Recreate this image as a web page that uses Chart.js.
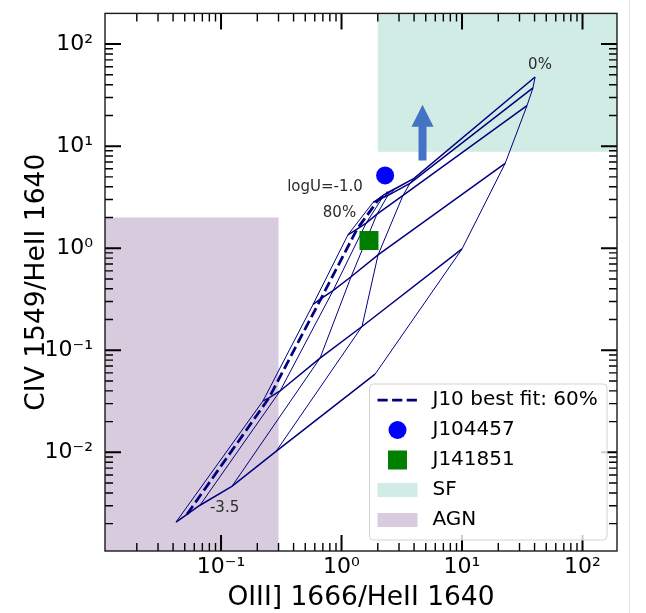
<!DOCTYPE html>
<html>
<head>
<meta charset="utf-8">
<script src="https://cdn.jsdelivr.net/npm/chart.js@4.4.1/dist/chart.umd.min.js"></script>
<style>
  html, body { margin: 0; padding: 0; background: #fff; }
  #wrap { position: relative; width: 646px; height: 613px; }
  #edge { position: absolute; left: 629px; top: 0; width: 1px; height: 613px; background: #e6e6e6; }
</style>
</head>
<body>
<div id="wrap">
  <canvas id="chart" width="646" height="613"></canvas>
  <div id="edge"></div>
</div>
<script>
// model grid: one point per logU on every AGN-fraction curve
const logU = [-3.5, -3.0, -2.5, -2.0, -1.5, -1.0];
const agnFractions = [80, 60, 40, 20, 10, 0];

// OIII] 1666/HeII 1640 (x) and CIV 1549/HeII 1640 (y)
const oiii80 = [0.0423, 0.223, 0.580, 1.13, 1.83, 2.21];
const civ80  = [0.00207, 0.0319, 0.281, 1.35, 2.82, 3.30];
const oiii60 = [0.0522, 0.250, 0.676, 1.345, 2.01, 2.43];
const civ60  = [0.00247, 0.0341, 0.321, 1.54, 2.95, 3.53];
const oiii40 = [0.0669, 0.309, 0.850, 1.60, 2.17, 2.63];
const civ40  = [0.00303, 0.0399, 0.384, 1.76, 3.09, 3.70];
const oiii20 = [0.123, 0.663, 1.20, 1.97, 2.43, 2.83];
const civ20  = [0.00463, 0.0836, 0.525, 2.16, 3.30, 3.87];
const oiii10 = [0.286, 1.48, 2.01, 3.24, 3.70, 4.00];
const civ10  = [0.0102, 0.171, 0.860, 3.30, 4.32, 4.84];
const oiii0  = [1.90, 10.0, 22.8, 34.6, 38.8, 40.4];
const civ0   = [0.0584, 0.984, 6.77, 24.9, 37.2, 47.6];

const oiiiGrid = [oiii80, oiii60, oiii40, oiii20, oiii10, oiii0];
const civGrid  = [civ80, civ60, civ40, civ20, civ10, civ0];
const bestFitFraction = 60;

// observed objects
const objNames = ['J104457', 'J141851'];
const objOiii  = [2.30, 1.69];
const objCiv   = [5.17, 1.19];

// lower limit arrow
const arrowOiii = 4.70;
const arrowCiv  = [7.24, 25.4]; // base, tip

// shaded regions (null = open to the axis edge)
const sfOiii  = [2.0, null];
const sfCiv   = [8.8, null];
const agnOiii = [null, 0.30];
const agnCiv  = [null, 2.0];

// text notes on the grid
const noteText = ['logU=-1.0', '80%', '0%', '-3.5'];
const noteOiii = [0.729, 0.962, 44.4, 0.107];
const noteCiv  = [3.95, 2.21, 62.3, 0.00283];

// axes
const xRange = [0.01089, 193.3];
const yRange = [0.001079, 199.9];
const xMajor = [0.1, 1, 10, 100];
const yMajor = [0.01, 0.1, 1, 10, 100];
const supers = {'-2': '⁻²', '-1': '⁻¹', '0': '⁰', '1': '¹', '2': '²'};

const NAVY = '#000080';
const SF_COLOR = '#d1ece5';
const AGN_COLOR = '#d8cbdd';
const FONT = 'DejaVu Sans';

function pow10Label(v) {
  const e = Math.round(Math.log10(v));
  return '10' + supers[String(e)];
}

function minorValues(min, max) {
  const out = [];
  for (let e = Math.floor(Math.log10(min)); e <= Math.ceil(Math.log10(max)); e++) {
    for (let m = 2; m <= 9; m++) {
      const v = m * Math.pow(10, e);
      if (v >= min && v <= max) out.push(v);
    }
  }
  return out;
}

const uDatasets = logU.map((u, j) => ({
  label: 'logU=' + u,
  data: agnFractions.map((f, i) => ({x: oiiiGrid[i][j], y: civGrid[i][j]})),
  showLine: true,
  borderColor: NAVY,
  borderWidth: 1.5,
  pointRadius: 0,
  fill: false
}));

const fDatasets = agnFractions.map((f, i) => ({
  label: f + '%',
  data: logU.map((u, j) => ({x: oiiiGrid[i][j], y: civGrid[i][j]})),
  showLine: true,
  borderColor: NAVY,
  borderWidth: f === bestFitFraction ? 2.75 : 1,
  borderDash: f === bestFitFraction ? [10.2, 4.4] : [],
  pointRadius: 0,
  fill: false
}));

const objDatasets = [
  {
    label: objNames[0],
    data: [{x: objOiii[0], y: objCiv[0]}],
    pointRadius: 9, pointHoverRadius: 9,
    pointBackgroundColor: 'blue', pointBorderWidth: 0
  },
  {
    label: objNames[1],
    data: [{x: objOiii[1], y: objCiv[1]}],
    pointStyle: 'rect',
    pointRadius: 13.4, pointHoverRadius: 13.4,
    pointBackgroundColor: 'green', pointBorderWidth: 0
  }
];

// shaded SF / AGN boxes under everything
const regionPlugin = {
  id: 'regions',
  beforeDatasetsDraw(chart) {
    const {ctx, chartArea: a, scales: {x, y}} = chart;
    const box = (xs, ys, color) => {
      const x0 = xs[0] == null ? a.left : x.getPixelForValue(xs[0]);
      const x1 = xs[1] == null ? a.right : x.getPixelForValue(xs[1]);
      const y0 = ys[0] == null ? a.bottom : y.getPixelForValue(ys[0]);
      const y1 = ys[1] == null ? a.top : y.getPixelForValue(ys[1]);
      ctx.fillStyle = color;
      ctx.fillRect(x0, y1, x1 - x0, y0 - y1);
    };
    ctx.save();
    box(sfOiii, sfCiv, SF_COLOR);
    box(agnOiii, agnCiv, AGN_COLOR);
    ctx.restore();
  }
};

// arrow, notes, inward ticks, frame and legend
const overlayPlugin = {
  id: 'overlay',
  afterDatasetsDraw(chart) {
    const {ctx, chartArea: a, scales: {x, y}} = chart;
    ctx.save();

    // arrow
    const ax = x.getPixelForValue(arrowOiii);
    const yb = y.getPixelForValue(arrowCiv[0]);
    const yt = y.getPixelForValue(arrowCiv[1]);
    const headLen = 22, headW = 11, shaftW = 4;
    ctx.fillStyle = '#4472c4';
    ctx.beginPath();
    ctx.moveTo(ax - shaftW, yb);
    ctx.lineTo(ax - shaftW, yt + headLen);
    ctx.lineTo(ax - headW, yt + headLen);
    ctx.lineTo(ax, yt);
    ctx.lineTo(ax + headW, yt + headLen);
    ctx.lineTo(ax + shaftW, yt + headLen);
    ctx.lineTo(ax + shaftW, yb);
    ctx.closePath();
    ctx.fill();

    // notes
    ctx.fillStyle = '#2b2b2b';
    ctx.font = '15px "' + FONT + '"';
    ctx.textAlign = 'center';
    ctx.textBaseline = 'middle';
    noteText.forEach((t, i) => {
      ctx.fillText(t, x.getPixelForValue(noteOiii[i]), y.getPixelForValue(noteCiv[i]));
    });

    // ticks on all four sides, pointing inward
    ctx.strokeStyle = '#000';
    const tickSet = (vals, len, w) => {
      ctx.lineWidth = w;
      ctx.beginPath();
      vals.x.forEach(v => {
        const px = x.getPixelForValue(v);
        ctx.moveTo(px, a.bottom); ctx.lineTo(px, a.bottom - len);
        ctx.moveTo(px, a.top); ctx.lineTo(px, a.top + len);
      });
      vals.y.forEach(v => {
        const py = y.getPixelForValue(v);
        ctx.moveTo(a.left, py); ctx.lineTo(a.left + len, py);
        ctx.moveTo(a.right, py); ctx.lineTo(a.right - len, py);
      });
      ctx.stroke();
    };
    tickSet({x: minorValues(xRange[0], xRange[1]), y: minorValues(yRange[0], yRange[1])}, 8, 1.4);
    tickSet({x: xMajor, y: yMajor}, 16, 2);

    // frame
    ctx.lineWidth = 1.4;
    ctx.strokeStyle = '#1a1a1a';
    ctx.strokeRect(a.left, a.top, a.right - a.left, a.bottom - a.top);

    // legend (lower right)
    const lw = 237.5, lh = 156;
    const lx = a.right - 10 - lw, ly = a.bottom - 11 - lh;
    ctx.fillStyle = 'rgba(255,255,255,0.8)';
    ctx.strokeStyle = '#d4d4d4';
    ctx.lineWidth = 1;
    ctx.beginPath();
    ctx.roundRect(lx, ly, lw, lh, 4);
    ctx.fill();
    ctx.stroke();

    const hx0 = lx + 8, hx1 = lx + 48, hc = lx + 28, tx = lx + 63;
    const rows = [16, 46, 76, 106, 136].map(d => ly + d);
    const labels = ['J10 best fit: ' + bestFitFraction + '%', objNames[0], objNames[1], 'SF', 'AGN'];

    ctx.strokeStyle = NAVY;
    ctx.lineWidth = 2.75;
    ctx.setLineDash([10.2, 4.4]);
    ctx.beginPath();
    ctx.moveTo(hx0, rows[0]); ctx.lineTo(hx1, rows[0]);
    ctx.stroke();
    ctx.setLineDash([]);

    ctx.fillStyle = 'blue';
    ctx.beginPath();
    ctx.arc(hc, rows[1], 9, 0, Math.PI * 2);
    ctx.fill();

    ctx.fillStyle = 'green';
    ctx.fillRect(hc - 9.5, rows[2] - 9.5, 19, 19);

    ctx.fillStyle = SF_COLOR;
    ctx.fillRect(hx0, rows[3] - 7, 40, 14);
    ctx.fillStyle = AGN_COLOR;
    ctx.fillRect(hx0, rows[4] - 7, 40, 14);

    ctx.fillStyle = '#000';
    ctx.font = '20px "' + FONT + '"';
    ctx.textAlign = 'left';
    ctx.textBaseline = 'middle';
    labels.forEach((t, i) => ctx.fillText(t, tx, rows[i]));

    ctx.restore();
  }
};

new Chart(document.getElementById('chart'), {
  type: 'scatter',
  data: {datasets: [...objDatasets, ...fDatasets, ...uDatasets]},
  options: {
    responsive: false,
    animation: false,
    layout: {padding: {top: 10, right: 29, bottom: 0, left: 0}},
    plugins: {legend: {display: false}, tooltip: {enabled: false}},
    scales: {
      x: {
        type: 'logarithmic',
        min: xRange[0], max: xRange[1],
        afterBuildTicks: s => { s.ticks = xMajor.map(v => ({value: v})); },
        afterFit: s => { s.height = 62; s.paddingLeft = 0; s.paddingRight = 0; },
        grid: {display: false, drawTicks: false},
        border: {display: false},
        ticks: {
          callback: v => pow10Label(v),
          font: {family: FONT, size: 22},
          color: '#000', padding: 3, maxRotation: 0, autoSkip: false
        },
        title: {
          display: true, text: 'OIII] 1666/HeII 1640',
          font: {family: FONT, size: 26.5, lineHeight: 1.0},
          color: '#000', padding: {top: 0, bottom: 2}
        }
      },
      y: {
        type: 'logarithmic',
        min: yRange[0], max: yRange[1],
        afterBuildTicks: s => { s.ticks = yMajor.map(v => ({value: v})); },
        afterFit: s => { s.width = 105; s.paddingTop = 0; s.paddingBottom = 0; },
        grid: {display: false, drawTicks: false},
        border: {display: false},
        ticks: {
          callback: v => pow10Label(v),
          font: {family: FONT, size: 22},
          color: '#000', padding: 12, autoSkip: false
        },
        title: {
          display: true, text: 'CIV 1549/HeII 1640',
          font: {family: FONT, size: 26.5, lineHeight: 1.2},
          color: '#000', padding: {top: 21, bottom: 0}
        }
      }
    }
  },
  plugins: [regionPlugin, overlayPlugin]
});
</script>
</body>
</html>
